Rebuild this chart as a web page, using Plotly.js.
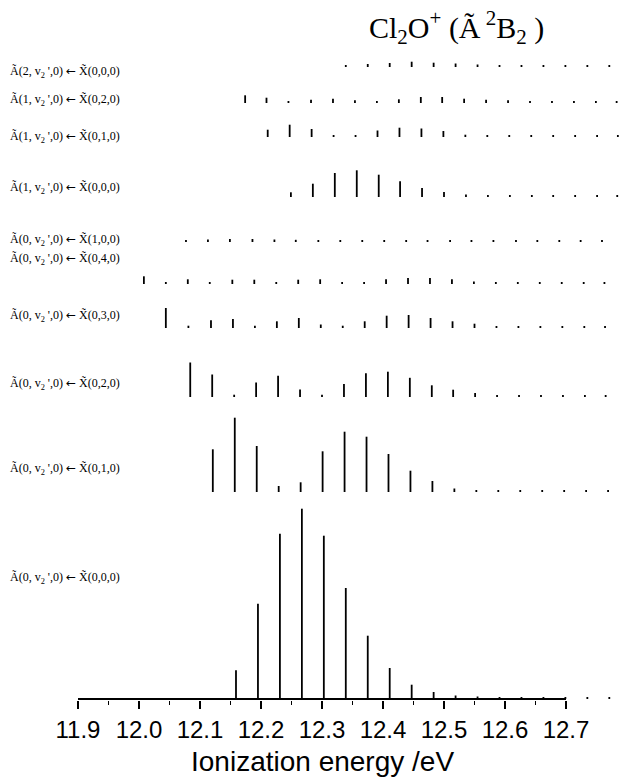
<!DOCTYPE html>
<html>
<head>
<meta charset="utf-8">
<script src="https://cdn.plot.ly/plotly-3.0.1.min.js"></script>
<style>html,body{margin:0;padding:0;background:#fff;}#chart{width:621px;height:779px;}</style>
</head>
<body>
<div id="chart"></div>
<script>
// ---- data (ionization energy in eV, stick intensity in arbitrary units) ----
const ARROW = '<span style="font-family:DejaVu Sans;font-size:12px">←</span>';
const rowLabels = [
  "Ã(2, v<sub>2</sub> ',0) " + ARROW + " X̃(0,0,0)",
  "Ã(1, v<sub>2</sub> ',0) " + ARROW + " X̃(0,2,0)",
  "Ã(1, v<sub>2</sub> ',0) " + ARROW + " X̃(0,1,0)",
  "Ã(1, v<sub>2</sub> ',0) " + ARROW + " X̃(0,0,0)",
  "Ã(0, v<sub>2</sub> ',0) " + ARROW + " X̃(1,0,0)",
  "Ã(0, v<sub>2</sub> ',0) " + ARROW + " X̃(0,4,0)",
  "Ã(0, v<sub>2</sub> ',0) " + ARROW + " X̃(0,3,0)",
  "Ã(0, v<sub>2</sub> ',0) " + ARROW + " X̃(0,2,0)",
  "Ã(0, v<sub>2</sub> ',0) " + ARROW + " X̃(0,1,0)",
  "Ã(0, v<sub>2</sub> ',0) " + ARROW + " X̃(0,0,0)"
];

const eA2_X000 = [12.339,12.375,12.411,12.447,12.483,12.519,12.555,12.591,12.627,12.663,12.699,12.735,12.771];
const iA2_X000 = [2,3,4,5.3,4.3,3.5,2.5,2,2,2,2,2,2];

const eA1_X020 = [12.174,12.209,12.245,12.282,12.318,12.354,12.390,12.426,12.462,12.497,12.533,12.569,12.605,12.641,12.677,12.713,12.749,12.783];
const iA1_X020 = [7.7,5.3,2,3.3,4.3,2.7,2,3.7,6,6,4.3,3.3,2.7,2,2,2,2,2];

const eA1_X010 = [12.211,12.247,12.283,12.319,12.355,12.391,12.427,12.463,12.499,12.535,12.571,12.607,12.643,12.679,12.715,12.751,12.785];
const iA1_X010 = [7.3,12.3,8,2,2,6.5,9.3,8.5,6,2.3,2,2,2,2,2,2,2];

const eA1_X000 = [12.249,12.285,12.321,12.357,12.393,12.428,12.464,12.500,12.536,12.572,12.608,12.644,12.679,12.715,12.751,12.784];
const iA1_X000 = [4.7,13.3,24,26.7,22.3,15.7,9,5,2.5,2,2,2,2,2,2,2];

const eA0_X100 = [12.077,12.113,12.149,12.186,12.222,12.257,12.294,12.330,12.366,12.402,12.438,12.473,12.510,12.545,12.581,12.618,12.653,12.689,12.724,12.759];
const iA0_X100 = [2,2.5,3,3,2.5,2.2,2,2,2,2,2,2,2,2,2,2,2,2,2,2];

const eA0_X040 = [12.008,12.044,12.080,12.116,12.153,12.189,12.225,12.261,12.297,12.333,12.369,12.405,12.441,12.477,12.513,12.549,12.585,12.621,12.657,12.693,12.729,12.763];
const iA0_X040 = [7.7,2,4.7,2,4.3,4.3,2,4.3,4.7,2,2,4.7,6,6,4.7,2.5,2,2,2,2,2,2];

const eA0_X030 = [12.044,12.081,12.118,12.154,12.190,12.226,12.262,12.298,12.334,12.370,12.406,12.442,12.478,12.514,12.550,12.586,12.622,12.658,12.694,12.730,12.764];
const iA0_X030 = [20,2.3,7.7,9,2.3,6.7,10,3.5,2.3,6.7,12.3,13,10,6.7,4.3,2,2,2,2,2,2];

const eA0_X020 = [12.084,12.120,12.156,12.192,12.228,12.264,12.300,12.336,12.372,12.408,12.444,12.480,12.515,12.551,12.587,12.623,12.659,12.695,12.731,12.765];
const iA0_X020 = [34.5,22.5,2.3,14.5,21.3,7.5,2.3,13,23.7,25.3,19.2,11.7,7.3,4,2,2,2,2,2,2];

const eA0_X010 = [12.121,12.157,12.193,12.229,12.265,12.301,12.337,12.373,12.409,12.445,12.481,12.517,12.553,12.589,12.625,12.661,12.697,12.733,12.769];
const iA0_X010 = [42.7,74.3,46,6,9.7,40.7,60.3,55.3,38,21.3,11,3.5,2,2,2,2,2,2,2];

const eA0_X000 = [12.159,12.195,12.231,12.267,12.303,12.339,12.375,12.411,12.447,12.483,12.519,12.555,12.591,12.627,12.663,12.699,12.735,12.771];
const iA0_X000 = [28.7,95.3,165.3,190.3,163.3,111,63.3,31,14.3,7,3.5,2.5,2,2,2,2,2,2];

const majorTicks = [11.9,12.0,12.1,12.2,12.3,12.4,12.5,12.6,12.7];
const minorTicks = [11.95,12.05,12.15,12.25,12.35,12.45,12.55,12.65];

// ---- layout of the stacked rows (vertical offsets of each baseline, and of its label) ----
const rowOffset = [632,596,562,502,457,415,371,302,207,0];
const labelOffset = [627,599,562,511,459,440,383,315,230,121];

const energies = [eA2_X000,eA1_X020,eA1_X010,eA1_X000,eA0_X100,eA0_X040,eA0_X030,eA0_X020,eA0_X010,eA0_X000];
const intens   = [iA2_X000,iA1_X020,iA1_X010,iA1_X000,iA0_X100,iA0_X040,iA0_X030,iA0_X020,iA0_X010,iA0_X000];

const traces = energies.map((ev, r) => {
  const xs = [], ys = [];
  ev.forEach((e, k) => {
    xs.push(e, e, null);
    ys.push(rowOffset[r], rowOffset[r] + intens[r][k], null);
  });
  return {x: xs, y: ys, type: 'scatter', mode: 'lines',
          line: {color: '#000', width: 1.8}, hoverinfo: 'skip', showlegend: false};
});

const L = 78, PW = 543, PH = 700;
const serif = 'Liberation Serif, Times New Roman, serif';
const sans = 'Liberation Sans, Arial, sans-serif';
const annotations = rowLabels.map((t, r) => ({
  text: t, xref: 'paper', yref: 'y', x: (8 - L) / PW, y: labelOffset[r],
  xanchor: 'left', yanchor: 'middle', showarrow: false,
  font: {family: serif, size: 12, color: '#000'}
}));
// chart title
annotations.push({
  text: 'Cl<sub>2</sub>O<sup>+</sup> (Ã<sup> 2</sup>B<sub>2</sub> )',
  xref: 'paper', yref: 'paper', x: (456 - L) / PW, y: (PH - 27) / PH,
  xanchor: 'center', yanchor: 'middle', showarrow: false,
  font: {family: serif, size: 30, color: '#000'}
});
// x-axis title, centred under the drawn part of the axis
annotations.push({
  text: 'Ionization energy /eV',
  xref: 'x', yref: 'paper',
  x: (majorTicks[0] + majorTicks[majorTicks.length - 1]) / 2, y: (PH - 761) / PH,
  xanchor: 'center', yanchor: 'middle', showarrow: false,
  font: {family: sans, size: 28, color: '#000'}
});

const layout = {
  width: 621, height: 779,
  margin: {l: L, r: 0, t: 0, b: 779 - PH},
  paper_bgcolor: '#fff', plot_bgcolor: '#fff',
  showlegend: false,
  xaxis: {
    range: [11.9, 11.9 + PW / 610],
    tickmode: 'array', tickvals: majorTicks, tickformat: '.1f',
    ticks: 'outside', ticklen: 8, tickwidth: 1.5, tickcolor: '#000',
    minor: {tickmode: 'array', tickvals: minorTicks, ticks: 'outside', ticklen: 4, tickwidth: 1.5, tickcolor: '#000', showgrid: false},
    showline: false, showgrid: false, zeroline: false,
    tickfont: {family: sans, size: 24, color: '#000'},
    automargin: false, fixedrange: true
  },
  yaxis: {range: [-1, PH - 1], visible: false, fixedrange: true},
  shapes: [{type: 'line', xref: 'x', yref: 'y',
            x0: majorTicks[0], x1: majorTicks[majorTicks.length - 1], y0: 0, y1: 0,
            line: {color: '#000', width: 2}}],
  annotations: annotations
};

Plotly.newPlot('chart', traces, layout, {staticPlot: true, displayModeBar: false});
</script>
</body>
</html>
